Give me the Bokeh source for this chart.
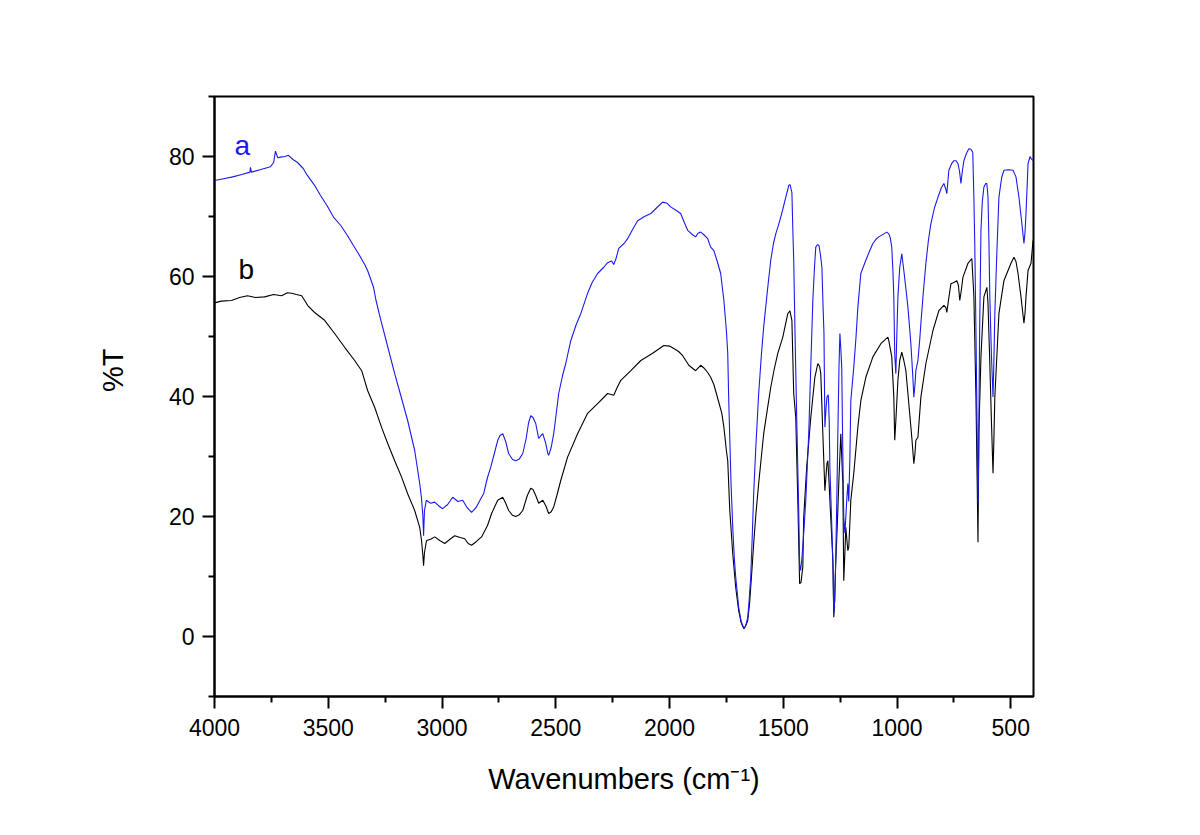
import numpy as np
from bokeh.plotting import figure
from bokeh.models import Range1d, FixedTicker, Label, Title
from bokeh.embed import file_html
from bokeh.resources import INLINE

# ---- data ----
wn_a = [4000, 3960, 3920, 3880, 3844, 3842, 3838, 3800, 3754, 3740, 3732, 3722, 3710, 3690, 3675, 3655,
        3635, 3610, 3591, 3560, 3534, 3505, 3477, 3445, 3415, 3390, 3367, 3340, 3327, 3301, 3290, 3272,
        3240, 3208, 3180, 3151, 3120, 3098, 3090, 3084, 3081, 3077, 3069, 3050, 3032, 3015, 2997, 2975,
        2953, 2930, 2909, 2890, 2870, 2850, 2826, 2817, 2800, 2786, 2770, 2755, 2745, 2733, 2720, 2707,
        2690, 2676, 2660, 2645, 2630, 2620, 2610, 2600, 2588, 2575, 2565, 2557, 2544, 2535, 2531, 2520,
        2509, 2500, 2487, 2470, 2456, 2434, 2410, 2390, 2360, 2340, 2316, 2290, 2272, 2255, 2245, 2235,
        2223, 2200, 2184, 2160, 2140, 2110, 2082, 2055, 2030, 2010, 1995, 1970, 1951, 1935, 1920, 1900,
        1885, 1875, 1863, 1850, 1832, 1819, 1805, 1790, 1775, 1761, 1750, 1744, 1740, 1730, 1722, 1715,
        1709, 1700, 1696, 1685, 1673, 1665, 1656, 1650, 1643, 1636, 1630, 1620, 1608, 1596, 1586, 1570,
        1555, 1543, 1533, 1520, 1511, 1500, 1489, 1480, 1476, 1470, 1462, 1458, 1454, 1447, 1440, 1432,
        1428, 1424, 1418, 1410, 1401, 1388, 1379, 1370, 1362, 1357, 1350, 1343, 1336, 1330, 1325, 1321,
        1317, 1312, 1308, 1302, 1298, 1295, 1288, 1281, 1278, 1274, 1270, 1265, 1260, 1255, 1251, 1247,
        1243, 1238, 1234, 1229, 1222, 1216, 1212, 1207, 1203, 1190, 1180, 1172, 1159, 1137, 1120, 1106,
        1090, 1080, 1058, 1045, 1036, 1030, 1023, 1018, 1014, 1010, 1005, 1001, 996, 988, 979, 970,
        961, 952, 939, 930, 926, 921, 917, 908, 900, 895, 884, 873, 862, 851, 835, 820,
        805, 794, 785, 781, 776, 772, 760, 750, 740, 732, 725, 719, 713, 706, 695, 684,
        675, 667, 662, 658, 653, 648, 644, 641, 637, 631, 625, 618, 610, 605, 600, 596,
        592, 585, 578, 574, 570, 562, 552, 540, 530, 510, 490, 477, 464, 451, 442, 437,
        433, 428, 424, 415, 411, 402]
t_a = [76.0, 76.3, 76.6, 77.0, 77.4, 78.2, 77.4, 77.8, 78.3, 79.0, 80.9, 79.8, 79.9, 80.0, 80.2, 79.5,
       79.0, 78.0, 76.8, 75.2, 73.5, 71.8, 69.9, 68.5, 66.8, 65.2, 63.8, 62.0, 61.0, 58.2, 56.0, 53.2,
       48.5, 43.8, 40.0, 36.0, 31.0, 25.5, 23.0, 20.0, 16.8, 21.0, 22.7, 22.2, 22.4, 21.8, 21.3, 22.0,
       23.2, 22.5, 22.7, 21.5, 20.7, 21.5, 23.2, 23.8, 26.5, 28.2, 30.5, 32.7, 33.5, 33.8, 32.5, 30.5,
       29.5, 29.3, 29.6, 30.5, 33.0, 35.5, 36.8, 36.5, 35.5, 33.0, 33.5, 33.8, 32.2, 30.5, 30.2, 31.5,
       33.8, 36.5, 40.5, 43.5, 45.5, 49.3, 52.0, 53.8, 57.2, 59.0, 60.5, 61.5, 62.3, 62.6, 62.0, 63.0,
       64.7, 65.5, 66.3, 68.0, 69.3, 70.0, 70.5, 71.5, 72.4, 72.2, 71.6, 71.0, 70.5, 69.0, 67.7, 67.0,
       66.6, 67.2, 67.4, 67.0, 66.3, 64.9, 64.3, 62.5, 60.5, 56.0, 51.0, 47.2, 40.0, 26.0, 18.2, 13.0,
       9.9, 6.5, 4.9, 2.5, 1.3, 1.8, 3.2, 6.0, 9.9, 17.0, 23.8, 32.0, 40.5, 47.0, 51.6, 57.5,
       62.7, 65.5, 67.1, 68.7, 69.9, 71.5, 73.2, 74.5, 75.2, 75.3, 74.0, 68.0, 62.7, 48.0, 34.9, 21.0,
       12.0, 11.0, 13.0, 17.2, 22.7, 33.8, 45.0, 56.0, 62.0, 64.9, 65.3, 65.2, 63.5, 61.5, 55.0, 50.5,
       34.9, 38.0, 39.9, 40.3, 36.0, 28.2, 20.0, 11.6, 3.8, 6.0, 11.6, 22.0, 33.8, 45.0, 50.5, 48.0,
       44.9, 30.0, 19.9, 17.2, 22.0, 25.5, 22.5, 30.0, 39.3, 44.9, 50.0, 54.9, 60.5, 62.7, 64.3, 65.5,
       66.3, 66.6, 67.1, 67.4, 67.1, 66.5, 64.9, 61.0, 56.6, 47.0, 43.8, 50.0, 56.6, 61.5, 63.8, 61.0,
       58.0, 54.9, 48.8, 43.0, 39.9, 42.0, 44.3, 46.0, 49.5, 52.2, 57.5, 62.2, 66.0, 68.8, 71.5, 73.2,
       74.8, 75.5, 74.5, 73.8, 76.0, 77.7, 78.8, 79.3, 79.3, 78.8, 77.5, 75.5, 77.5, 79.3, 80.5, 81.3,
       81.2, 80.7, 73.2, 65.0, 51.0, 35.0, 22.2, 30.0, 50.0, 67.7, 72.5, 74.9, 75.5, 75.5, 73.2, 66.0,
       56.6, 47.0, 39.9, 46.0, 53.8, 63.0, 73.2, 76.5, 77.7, 77.8, 77.7, 76.6, 73.2, 68.8, 65.5, 67.5,
       70.5, 75.0, 78.8, 80.0, 79.7, 79.3]

wn_b = [4000, 3970, 3925, 3890, 3855, 3820, 3780, 3740, 3705, 3680, 3661, 3640, 3617, 3600, 3591, 3560,
        3516, 3472, 3428, 3384, 3353, 3327, 3296, 3266, 3239, 3208, 3178, 3151, 3120, 3098, 3090, 3084,
        3081, 3077, 3068, 3050, 3032, 3010, 2988, 2965, 2944, 2920, 2900, 2885, 2870, 2850, 2826, 2800,
        2782, 2770, 2755, 2733, 2720, 2707, 2690, 2676, 2660, 2645, 2625, 2610, 2600, 2588, 2575, 2557,
        2544, 2531, 2520, 2509, 2495, 2478, 2448, 2404, 2360, 2316, 2272, 2245, 2230, 2214, 2170, 2126,
        2074, 2025, 2000, 1981, 1960, 1942, 1915, 1885, 1863, 1850, 1832, 1819, 1805, 1783, 1770, 1761,
        1750, 1744, 1735, 1722, 1709, 1696, 1685, 1673, 1665, 1656, 1648, 1643, 1636, 1630, 1620, 1608,
        1586, 1570, 1555, 1540, 1524, 1502, 1480, 1471, 1462, 1454, 1445, 1436, 1428, 1422, 1414, 1410,
        1397, 1379, 1361, 1348, 1340, 1335, 1326, 1317, 1308, 1304, 1299, 1295, 1282, 1278, 1274, 1270,
        1262, 1256, 1247, 1243, 1238, 1234, 1229, 1225, 1220, 1216, 1212, 1207, 1203, 1190, 1172, 1159,
        1137, 1106, 1071, 1040, 1036, 1023, 1014, 1010, 1005, 996, 988, 979, 970, 961, 948, 935,
        926, 921, 917, 908, 895, 873, 842, 816, 794, 785, 781, 772, 763, 750, 737, 730,
        724, 718, 710, 688, 671, 662, 653, 648, 644, 640, 631, 618, 605, 600, 592, 585,
        578, 574, 570, 552, 530, 499, 486, 477, 468, 455, 442, 437, 433, 424, 411, 402]
t_b = [55.6, 55.9, 56.0, 56.5, 56.8, 56.5, 56.6, 57.0, 56.8, 57.3, 57.2, 57.0, 56.8, 55.8, 55.2, 54.0,
       52.7, 50.5, 48.2, 46.0, 44.3, 41.0, 38.2, 34.9, 32.2, 29.3, 26.6, 23.8, 21.0, 18.2, 16.0, 13.5,
       11.8, 14.0, 16.0, 16.2, 16.6, 16.0, 15.5, 16.2, 16.8, 16.5, 16.3, 15.5, 15.2, 15.8, 16.6, 18.5,
       20.5, 21.5, 22.7, 23.2, 22.2, 21.0, 20.2, 20.0, 20.3, 21.0, 23.5, 24.7, 24.5, 23.5, 22.2, 22.7,
       21.8, 20.5, 20.8, 21.6, 23.5, 26.0, 29.9, 33.8, 37.2, 38.8, 40.5, 40.2, 41.5, 42.7, 44.3, 46.0,
       47.2, 48.5, 48.4, 48.0, 47.5, 46.8, 45.2, 44.3, 45.2, 44.8, 44.0, 43.2, 42.0, 39.0, 37.2, 34.9,
       31.0, 29.3, 21.0, 13.8, 8.2, 4.3, 2.3, 1.3, 1.8, 2.7, 5.5, 8.2, 12.0, 15.5, 20.5, 25.5,
       33.8, 37.8, 41.5, 44.5, 47.2, 49.9, 53.8, 54.3, 52.7, 40.5, 36.5, 22.7, 8.8, 9.0, 11.6, 19.9,
       28.2, 36.5, 43.2, 45.5, 45.0, 43.8, 33.8, 24.3, 28.8, 29.3, 26.0, 22.7, 12.7, 3.2, 6.0, 11.6,
       19.0, 25.5, 33.8, 30.0, 25.5, 9.3, 14.0, 18.2, 16.0, 14.3, 14.9, 19.0, 22.7, 27.2, 34.9, 39.3,
       43.2, 46.6, 48.8, 49.9, 49.3, 46.6, 39.9, 32.7, 36.0, 42.7, 46.0, 47.4, 46.0, 44.3, 38.8, 33.2,
       28.8, 30.5, 32.7, 33.2, 39.9, 45.5, 51.0, 54.3, 55.2, 54.8, 54.0, 56.5, 58.8, 59.0, 59.3, 58.5,
       56.0, 57.5, 59.9, 62.2, 63.0, 56.6, 39.9, 27.0, 15.7, 34.3, 46.6, 56.6, 58.2, 55.5, 45.5, 36.0,
       27.2, 33.0, 39.9, 53.8, 59.3, 62.2, 63.2, 62.5, 60.5, 56.6, 52.2, 54.0, 56.6, 61.0, 62.2, 66.0]

x_major = [4000, 3500, 3000, 2500, 2000, 1500, 1000, 500]
x_minor = [3750, 3250, 2750, 2250, 1750, 1250, 750]
y_major = [0, 20, 40, 60, 80]
y_minor = [-10, 10, 30, 50, 70, 90]

series_labels = ["a", "b"]
label_pos_x = [3912, 3894]
label_pos_y = [81.9, 61.1]

FONT = "Liberation Sans"

p = figure(frame_width=819, frame_height=600,
           min_border_left=214, min_border_right=140, min_border_top=96, min_border_bottom=115,
           x_range=Range1d(4000, 400), y_range=Range1d(-10, 90),
           output_backend="svg", toolbar_location=None, tools="")
p.background_fill_color = "white"
p.border_fill_color = "white"
p.outline_line_color = "black"
p.outline_line_width = 2
p.xgrid.visible = False
p.ygrid.visible = False

p.line(wn_b, t_b, line_color="black", line_width=1.1)
p.line(wn_a, t_a, line_color="#1a1aee", line_width=1.1)

for ax in (p.xaxis[0], p.yaxis[0]):
    ax.axis_line_width = 2
    ax.axis_line_color = "black"
    ax.major_tick_line_width = 2
    ax.minor_tick_line_width = 2
    ax.major_tick_in = 0
    ax.major_tick_out = 12
    ax.minor_tick_in = 0
    ax.minor_tick_out = 6
    ax.major_label_text_font = FONT
    ax.major_label_text_font_size = "23px"
    ax.major_label_text_color = "black"
    ax.axis_label_text_font = FONT
    ax.axis_label_text_font_style = "normal"
    ax.axis_label_text_font_size = "29px"
    ax.axis_label_text_color = "black"

p.xaxis[0].ticker = FixedTicker(ticks=x_major, minor_ticks=x_minor)
p.yaxis[0].ticker = FixedTicker(ticks=y_major, minor_ticks=y_minor)
p.xaxis[0].major_label_standoff = 10
p.yaxis[0].major_label_standoff = 8
p.xaxis[0].axis_label = "Wavenumbers (cm\u207b\u00b9)"
p.xaxis[0].axis_label_standoff = 24

ytitle = Title(text="%T", align="right", offset=252, standoff=74,
               text_font=FONT, text_font_size="29px", text_font_style="normal",
               text_color="black")
p.add_layout(ytitle, "left")

colors = ["#1a1aee", "black"]
for s, lx, ly, c in zip(series_labels, label_pos_x, label_pos_y, colors):
    p.add_layout(Label(x=lx, y=ly, text=s, text_align="left", text_baseline="alphabetic",
                       text_font=FONT, text_font_size="28px", text_color=c))

open("out.html", "w").write(file_html(p, INLINE))
